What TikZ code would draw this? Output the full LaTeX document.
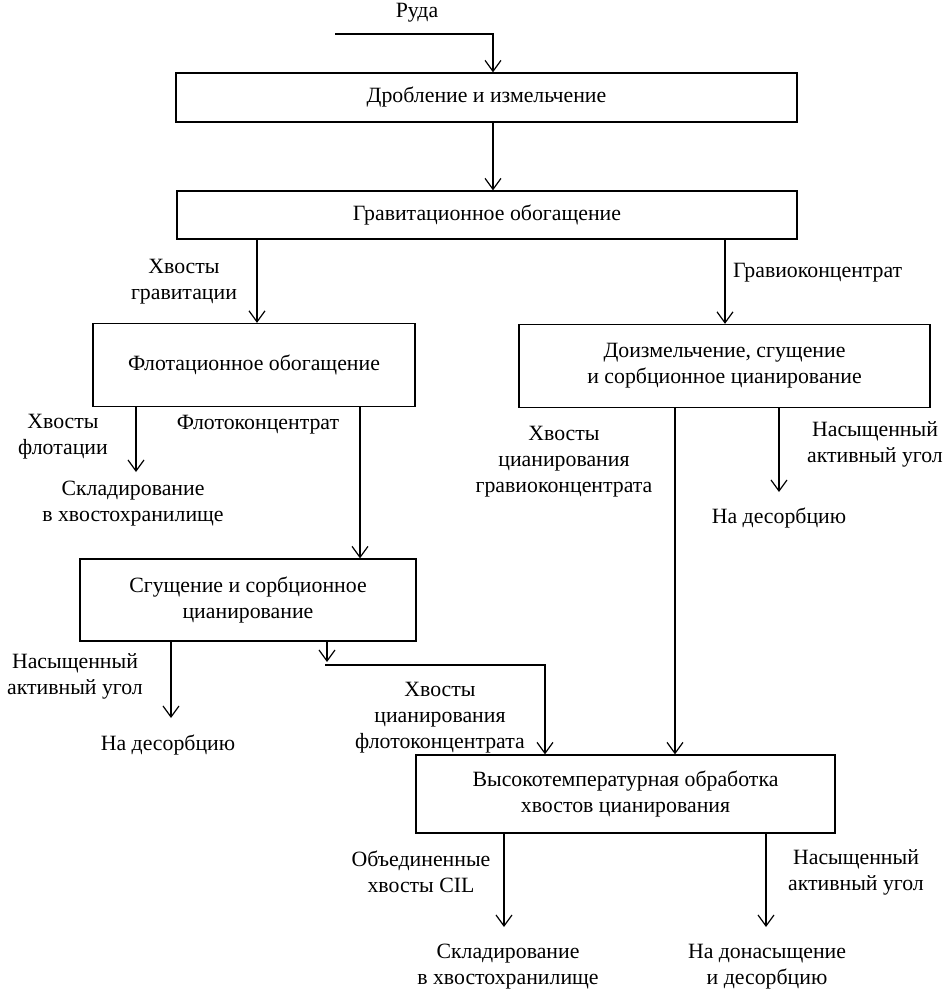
\documentclass[tikz,border=0pt]{standalone}
\usepackage{fontspec}
\setmainfont{Liberation Serif}
\usetikzlibrary{arrows.meta}
\begin{document}
\begin{tikzpicture}[x=1pt,y=-1pt,
  every node/.style={font=\fontsize{21.8}{26}\selectfont, inner sep=0pt},
  box/.style={draw, line width=1.3pt, align=center},
  lbl/.style={align=center},
  conn/.style={line width=1.2pt},
  arr/.style={conn, -{Straight Barb[length=11pt,width=16pt,line width=1.2pt]}}]
\useasboundingbox (0,0) rectangle (951,990);
% boxes
\node[box, minimum width=621pt, minimum height=49pt] (b1) at (486.5,97.5) {Дробление и измельчение};
\node[box, minimum width=620pt, minimum height=48pt] (b2) at (487,215) {Гравитационное обогащение};
\node[box, minimum width=322pt, minimum height=83pt] (b3) at (254,365) {Флотационное обогащение};
\node[box, minimum width=411pt, minimum height=83pt] (b4) at (724.5,366) {Доизмельчение, сгущение\\и сорбционное цианирование};
\node[box, minimum width=336pt, minimum height=82pt] (b5) at (248,600) {Сгущение и сорбционное\\цианирование};
\node[box, minimum width=419pt, minimum height=78pt] (b6) at (625.5,794) {Высокотемпературная обработка\\хвостов цианирования};
% texts
\node (ruda) at (417,13) {Руда};
\node[lbl] (t1) at (184,282) {Хвосты\\гравитации};
\node[anchor=west] (t2) at (733,273) {Гравиоконцентрат};
\node[lbl] (t3) at (63,437) {Хвосты\\флотации};
\node (t4) at (258,425) {Флотоконцентрат};
\node[lbl] (t5) at (133,504) {Складирование\\в хвостохранилище};
\node[lbl] (t6) at (564,462) {Хвосты\\цианирования\\гравиоконцентрата};
\node[lbl] (t7) at (875,444) {Насыщенный\\активный угол};
\node (t8) at (779,518) {На десорбцию};
\node[lbl] (t9) at (75,676) {Насыщенный\\активный угол};
\node (t10) at (168,745) {На десорбцию};
\node[lbl] (t11) at (440,718) {Хвосты\\цианирования\\флотоконцентрата};
\node[lbl] (t12) at (421,872) {Объединенные\\хвосты CIL};
\node[lbl] (t13) at (856,872) {Насыщенный\\активный угол};
\node[lbl] (t14) at (508,967) {Складирование\\в хвостохранилище};
\node[lbl] (t15) at (767,967) {На донасыщение\\и десорбцию};
% coordinates
\coordinate (in) at (335,34);
\coordinate (xa) at (493,0);
\coordinate (xb) at (257,0);
\coordinate (xc) at (725,0);
\coordinate (xd) at (136,0);
\coordinate (xe) at (360,0);
\coordinate (xf) at (171,0);
\coordinate (xg) at (327,0);
\coordinate (xh) at (545,0);
\coordinate (xi) at (675,0);
\coordinate (xj) at (779,0);
\coordinate (xk) at (504,0);
\coordinate (xl) at (766,0);
\coordinate (e1) at (136,472);
\coordinate (e2) at (171,718);
\coordinate (e3) at (327,662);
\coordinate (j1) at (325,665);
\coordinate (e4) at (779,492);
\coordinate (e5) at (504,927);
\coordinate (e6) at (766,927);
% connectors
\draw[arr] (in) -| (b1.north -| xa);
\draw[arr] (b1.south -| xa) -- (b2.north -| xa);
\draw[arr] (b2.south -| xb) -- (b3.north -| xb);
\draw[arr] (b2.south -| xc) -- (b4.north -| xc);
\draw[arr] (b3.south -| xd) -- (e1);
\draw[arr] (b3.south -| xe) -- (b5.north -| xe);
\draw[arr] (b5.south -| xf) -- (e2);
\draw[arr] (b5.south -| xg) -- (e3);
\draw[arr] (j1) -| (b6.north -| xh);
\draw[arr] (b4.south -| xi) -- (b6.north -| xi);
\draw[arr] (b4.south -| xj) -- (e4);
\draw[arr] (b6.south -| xk) -- (e5);
\draw[arr] (b6.south -| xl) -- (e6);
\end{tikzpicture}
\end{document}
